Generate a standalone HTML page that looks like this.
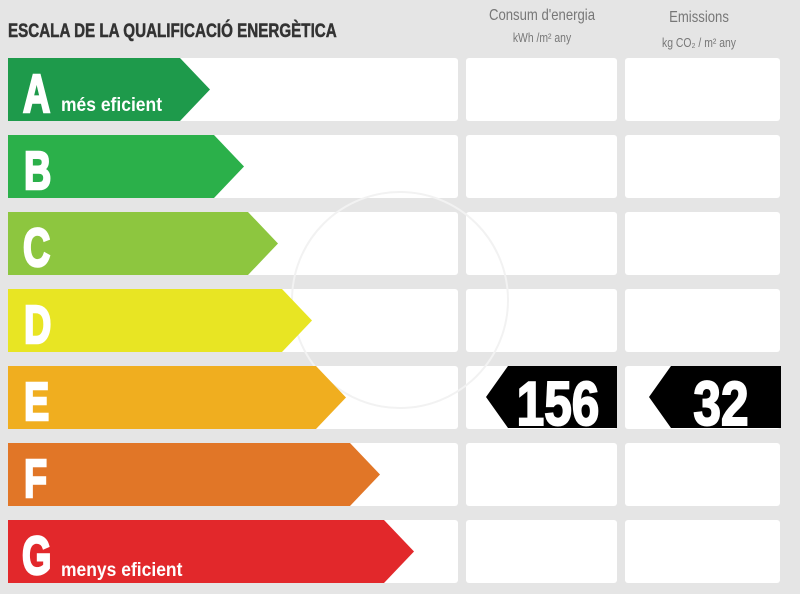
<!DOCTYPE html>
<html><head><meta charset="utf-8"><style>
html,body{margin:0;padding:0;background:#e5e5e5;}
svg{display:block}
</style></head><body>
<svg width="800" height="594" viewBox="0 0 800 594" xmlns="http://www.w3.org/2000/svg" font-family="Liberation Sans, sans-serif">
<rect width="800" height="594" fill="#e5e5e5"/>
<text transform="translate(8 37) scale(0.8 1)" font-size="19" font-weight="bold" fill="#333" stroke="#333" stroke-width="0.5">ESCALA DE LA QUALIFICACIÓ ENERGÈTICA</text>
<text transform="translate(542 20) scale(0.82 1)" font-size="16" fill="#777" text-anchor="middle">Consum d'energia</text>
<text transform="translate(542 42) scale(0.8 1)" font-size="13" fill="#777" text-anchor="middle">kWh /m² any</text>
<text transform="translate(699 22) scale(0.82 1)" font-size="16" fill="#777" text-anchor="middle">Emissions</text>
<text transform="translate(699 47) scale(0.8 1)" font-size="13" fill="#777" text-anchor="middle">kg CO₂ / m² any</text>
<g fill="#fff">
<rect x="8" y="58" width="450" height="63" rx="3"/><rect x="466" y="58" width="151" height="63" rx="3"/><rect x="625" y="58" width="155" height="63" rx="3"/>
<rect x="8" y="135" width="450" height="63" rx="3"/><rect x="466" y="135" width="151" height="63" rx="3"/><rect x="625" y="135" width="155" height="63" rx="3"/>
<rect x="8" y="212" width="450" height="63" rx="3"/><rect x="466" y="212" width="151" height="63" rx="3"/><rect x="625" y="212" width="155" height="63" rx="3"/>
<rect x="8" y="289" width="450" height="63" rx="3"/><rect x="466" y="289" width="151" height="63" rx="3"/><rect x="625" y="289" width="155" height="63" rx="3"/>
<rect x="8" y="366" width="450" height="63" rx="3"/><rect x="466" y="366" width="151" height="63" rx="3"/><rect x="625" y="366" width="155" height="63" rx="3"/>
<rect x="8" y="443" width="450" height="63" rx="3"/><rect x="466" y="443" width="151" height="63" rx="3"/><rect x="625" y="443" width="155" height="63" rx="3"/>
<rect x="8" y="520" width="450" height="63" rx="3"/><rect x="466" y="520" width="151" height="63" rx="3"/><rect x="625" y="520" width="155" height="63" rx="3"/>
</g>
<circle cx="400" cy="300" r="108" fill="none" stroke="#f2f2f2" stroke-width="2"/>
<polygon points="8,58 180,58 210,89.5 180,121 8,121" fill="#1e9a4b"/>
<polygon points="8,135 214,135 244,166.5 214,198 8,198" fill="#2bb04a"/>
<polygon points="8,212 248,212 278,243.5 248,275 8,275" fill="#8dc63f"/>
<polygon points="8,289 282,289 312,320.5 282,352 8,352" fill="#e8e523"/>
<polygon points="8,366 316,366 346,397.5 316,429 8,429" fill="#f0ae1f"/>
<polygon points="8,443 350,443 380,474.5 350,506 8,506" fill="#e17627"/>
<polygon points="8,520 384,520 414,551.5 384,583 8,583" fill="#e2282b"/>
<g font-size="54" font-weight="bold" fill="#fff" stroke="#fff" stroke-width="2.5">
<text transform="translate(23 112) scale(0.7 1)">A</text>
<text transform="translate(24 189) scale(0.7 1)">B</text>
<text transform="translate(23 266) scale(0.7 1)">C</text>
<text transform="translate(24 343) scale(0.7 1)">D</text>
<text transform="translate(24 420) scale(0.7 1)">E</text>
<text transform="translate(24 497) scale(0.7 1)">F</text>
<text transform="translate(22 574) scale(0.7 1)">G</text>
</g>
<text transform="translate(61 111) scale(0.92 1)" font-size="19" font-weight="bold" fill="#fff">més eficient</text>
<text transform="translate(61 576) scale(0.92 1)" font-size="19" font-weight="bold" fill="#fff">menys eficient</text>
<polygon points="486,397 508,366 617,366 617,428 508,428" fill="#000"/>
<polygon points="649,397 671,366 781,366 781,428 671,428" fill="#000"/>
<g font-size="62" font-weight="bold" fill="#fff" stroke="#fff" stroke-width="2" text-anchor="middle">
<text transform="translate(558 425) scale(0.8 1)">156</text>
<text transform="translate(721 425) scale(0.8 1)">32</text>
</g>
</svg>
</body></html>
